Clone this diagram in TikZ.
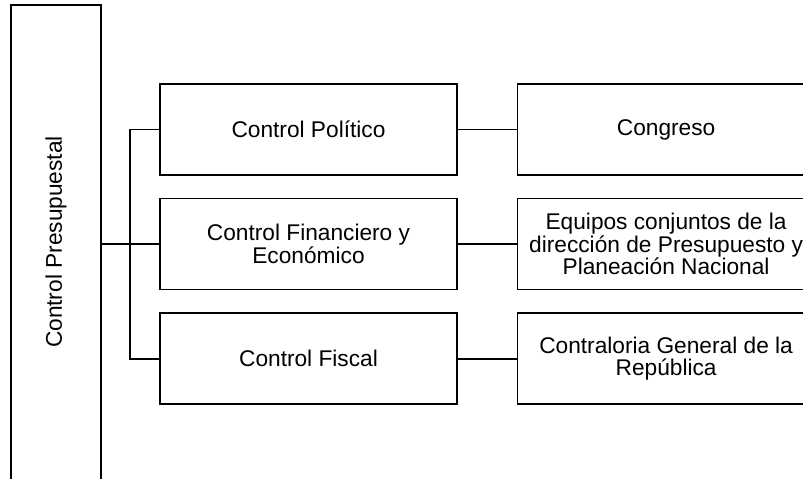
\documentclass[tikz,border=0pt]{standalone}
\usepackage{fontspec}
\setmainfont{Liberation Sans}
\usetikzlibrary{positioning}
\begin{document}
\begin{tikzpicture}[x=1pt, y=-1pt, font=\fontsize{22.7}{22.6}\selectfont, line width=1.6pt,
	box/.style={draw, minimum width=297pt, minimum height=91pt, align=center, inner sep=0pt}]
	\useasboundingbox (0,0) rectangle (803,479);
	\clip (0,0) rectangle (803,479);
	\node[draw, line width=1.4pt, minimum width=90pt, minimum height=484pt] (pres) at (56,247) {};
	\node[rotate=90] (presl) at (56,242) {Control Presupuestal};
	\node[box] (pol) at (308.5,129.5) {Control Político};
	\node[box, below=22pt of pol] (fin) {Control Financiero y\\Económico};
	\node[box, below=22pt of fin] (fis) {Control Fiscal};
	\node[box, right=59pt of pol] (cong) {Congreso};
	\node[box, right=59pt of fin] (equi) {Equipos conjuntos de la\\dirección de Presupuesto y\\Planeación Nacional};
	\node[box, right=59pt of fis] (contr) {Contraloria General de la\\República};
	\draw (pol.west) -- ++(-29,0) |- (fis.west);
	\draw (pres.east |- fin.west) -- (fin.west);
	\foreach \a/\b in {pol/cong,fin/equi,fis/contr} \draw (\a) -- (\b);
\end{tikzpicture}
\end{document}
